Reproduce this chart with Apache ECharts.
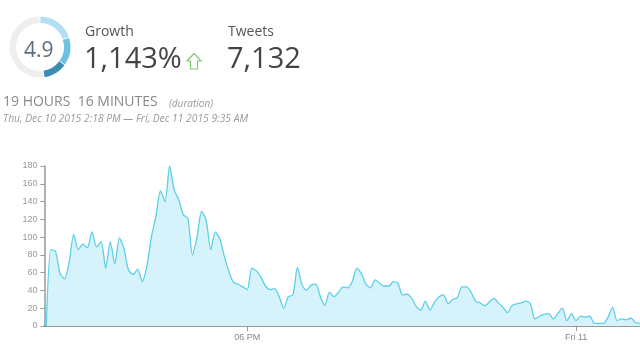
<!DOCTYPE html>
<html>
<head>
<meta charset="utf-8">
<script src="https://cdn.jsdelivr.net/npm/echarts@6/dist/echarts.min.js"></script>
<style>
html,body{margin:0;padding:0;background:#fff;}
#c{width:640px;height:360px;}
</style>
</head>
<body>
<div id="c"></div>
<script>
// ---- data ----
var startTime = new Date(2015, 11, 10, 14, 20, 0).getTime(); // first 5-minute bin
var stepMinutes = 5;
var tweetsPer5Min = [
  0, 86, 84, 59, 53, 72, 103, 86, 92, 88,
  106, 89, 95, 65, 95, 70, 99, 87, 63, 58,
  64, 50, 67, 100, 123, 152, 140, 180, 153, 142,
  125, 121, 80, 100, 129, 119, 86, 106, 98, 78,
  61, 49, 47, 44, 41, 65, 62, 55, 45, 41,
  42, 33, 20, 33, 35, 66, 46, 40, 46, 47,
  33, 23, 38, 33, 38, 44, 43, 50, 65, 59,
  47, 43, 52, 48, 45, 45, 50, 48, 35, 36,
  31, 22, 18, 28, 18, 27, 33, 35, 25, 30,
  32, 44, 44, 38, 28, 26, 23, 27, 31, 26,
  21, 15, 23, 25, 26, 28, 25, 8, 11, 13,
  14, 8, 14, 20, 6, 14, 6, 11, 10, 11,
  3, 3, 3, 10, 21, 6, 8, 7, 9, 4,
  3
];
var xTickTimes = [new Date(2015, 11, 10, 18, 0).getTime(), new Date(2015, 11, 11, 0, 0).getTime()];
var xTickLabels = ['06 PM', 'Fri 11'];
var axisMin = new Date(2015, 11, 10, 14, 18).getTime();
var axisMax = new Date(2015, 11, 11, 1, 10).getTime();

var scoreValue = '4.9';
var scoreSegments = [72, 54, 46, 188]; // degrees of the ring: light, medium, dark, remainder
var growthText = '1,143%';
var tweetsText = '7,132';
var durationText = '19 HOURS  16 MINUTES';
var rangeText = 'Thu, Dec 10 2015 2:18 PM \u2014 Fri, Dec 11 2015 9:35 AM';

// ---- build ----
var seriesData = tweetsPer5Min.map(function (v, i) {
  return [startTime + i * stepMinutes * 60000, v];
});

var chart = echarts.init(document.getElementById('c'), null, {renderer: 'canvas'});
var font = '"Open Sans", sans-serif';
chart.setOption({
  animation: false,
  backgroundColor: '#fff',
  grid: {left: 44.5, right: 0, top: 166, bottom: 34, containLabel: false},
  xAxis: {
    type: 'value',
    min: axisMin,
    max: axisMax,
    axisLine: {lineStyle: {color: '#999', width: 2}},
    axisTick: {show: true, customValues: xTickTimes, length: 5, lineStyle: {color: '#999'}},
    axisLabel: {
      customValues: xTickTimes,
      fontSize: 9,
      color: '#888',
      fontFamily: '"Liberation Sans", Arial, sans-serif',
      margin: 7,
      formatter: function (val) {
        var idx = xTickTimes.indexOf(val);
        return idx >= 0 ? xTickLabels[idx] : '';
      }
    },
    splitLine: {show: false}
  },
  yAxis: {
    type: 'value',
    min: 0,
    max: 180,
    interval: 20,
    axisLine: {show: true, lineStyle: {color: '#999', width: 1.5}},
    axisTick: {show: true, length: 4, lineStyle: {color: '#999'}},
    axisLabel: {
      fontSize: 9,
      color: '#999',
      fontFamily: '"Liberation Sans", Arial, sans-serif',
      margin: 7
    },
    splitLine: {show: false}
  },
  series: [
    {
      type: 'line',
      data: seriesData,
      showSymbol: false,
      smooth: 0.25,
      lineStyle: {color: '#5ccfe9', width: 1.3},
      areaStyle: {color: '#d6f3fb', opacity: 1},
      z: 2
    },
    {
      type: 'pie',
      center: [40, 47],
      radius: [24, 30.5],
      startAngle: 90,
      clockwise: true,
      padAngle: 1.5,
      silent: true,
      label: {show: false},
      labelLine: {show: false},
      data: [
        {value: scoreSegments[0], itemStyle: {color: '#b3dff4'}},
        {value: scoreSegments[1], itemStyle: {color: '#6cc1e4'}},
        {value: scoreSegments[2], itemStyle: {color: '#3a8db0'}},
        {value: scoreSegments[3], itemStyle: {color: '#eeeeee'}}
      ]
    }
  ],
  graphic: [
    {type: 'text', left: 24, top: 41, style: {text: scoreValue, font: '21px ' + font, fill: '#5b6d7c'}},
    {type: 'text', left: 85, top: 25, style: {text: 'Growth', font: '14px ' + font, fill: '#555'}},
    {type: 'text', left: 84, top: 45, style: {text: growthText, font: '29px ' + font, fill: '#444'}},
    {type: 'polygon', shape: {points: [[194, 53.5], [201, 61], [197.5, 61], [197.5, 69], [190.5, 69], [190.5, 61], [187, 61]]},
      style: {fill: 'none', stroke: '#84c874', lineWidth: 1.2}},
    {type: 'text', left: 228, top: 25, style: {text: 'Tweets', font: '14px ' + font, fill: '#555'}},
    {type: 'text', left: 227, top: 45, style: {text: tweetsText, font: '29px ' + font, fill: '#444'}},
    {type: 'text', left: 3, top: 95, style: {text: durationText, font: '14px ' + font, fill: '#888'}},
    {type: 'text', left: 169, top: 99, style: {text: '(duration)', font: 'italic 10px ' + font, fill: '#999'}},
    {type: 'text', left: 3, top: 114, style: {text: rangeText, font: 'italic 10.3px ' + font, fill: '#999'}}
  ]
});
</script>
</body>
</html>
